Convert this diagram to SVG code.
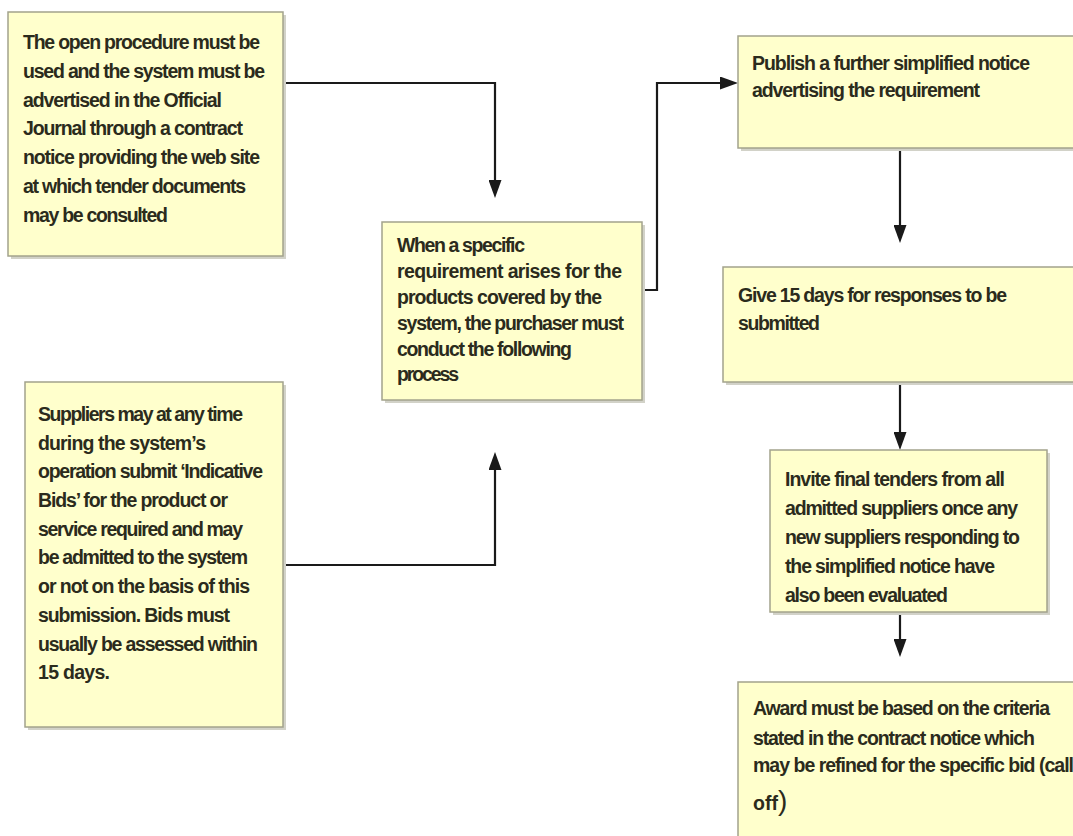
<svg xmlns="http://www.w3.org/2000/svg" width="1073" height="836" viewBox="0 0 1073 836">
<defs>
<marker id="ah" viewBox="0 0 18 13" refX="0" refY="6.5" markerWidth="18" markerHeight="13" markerUnits="userSpaceOnUse" orient="auto">
<path d="M0,0 L18,6.5 L0,13 z" fill="#1a1a1a"/>
</marker>
</defs>
<style>
.box{fill:#ffffcc;stroke:#a3a38c;stroke-width:1.5}
.sh{fill:#d2d2c8}
.t{font-family:"Liberation Sans",Arial,sans-serif;font-size:19.5px;font-weight:bold;fill:#2b2b1c}
.c{fill:none;stroke:#1a1a1a;stroke-width:2.2}
</style>
<rect width="1073" height="836" fill="#ffffff"/>

<g id="connectors">
<path class="c" d="M283,83 H495 V180" marker-end="url(#ah)"/>
<path class="c" d="M283,565 H495 V470" marker-end="url(#ah)"/>
<path class="c" d="M642,290 H657 V83 H720" marker-end="url(#ah)"/>
<path class="c" d="M900,148 V225" marker-end="url(#ah)"/>
<path class="c" d="M900,382 V432" marker-end="url(#ah)"/>
<path class="c" d="M900,612 V639" marker-end="url(#ah)"/>
</g>

<g id="node1">
<rect class="sh" x="11" y="15" width="275" height="244"/>
<rect class="box" x="8" y="12" width="275" height="244"/>
<text class="t" lengthAdjust="spacingAndGlyphs">
<tspan x="23" y="49" textLength="237">The open procedure must be</tspan>
<tspan x="23" y="78" textLength="242">used and the system must be</tspan>
<tspan x="23" y="107" textLength="199">advertised in the Official</tspan>
<tspan x="23" y="135" textLength="220">Journal through a contract</tspan>
<tspan x="23" y="164" textLength="237">notice providing the web site</tspan>
<tspan x="23" y="193" textLength="223">at which tender documents</tspan>
<tspan x="23" y="222" textLength="145">may be consulted</tspan>
</text>
</g>

<g id="node2">
<rect class="sh" x="28" y="385" width="258" height="345"/>
<rect class="box" x="25" y="382" width="258" height="345"/>
<text class="t" lengthAdjust="spacingAndGlyphs">
<tspan x="38" y="421" textLength="205">Suppliers may at any time</tspan>
<tspan x="38" y="450" textLength="168">during the system’s</tspan>
<tspan x="38" y="478" textLength="225">operation submit ‘Indicative</tspan>
<tspan x="38" y="507" textLength="190">Bids’ for the product or</tspan>
<tspan x="38" y="536" textLength="205">service required and may</tspan>
<tspan x="38" y="564" textLength="210">be admitted to the system</tspan>
<tspan x="38" y="593" textLength="212">or not on the basis of this</tspan>
<tspan x="38" y="622" textLength="192">submission. Bids must</tspan>
<tspan x="38" y="651" textLength="220">usually be assessed within</tspan>
<tspan x="38" y="679" textLength="72">15 days.</tspan>
</text>
</g>

<g id="node3">
<rect class="sh" x="385" y="225" width="260" height="178"/>
<rect class="box" x="382" y="222" width="260" height="178"/>
<text class="t" lengthAdjust="spacingAndGlyphs">
<tspan x="397" y="252" textLength="128">When a specific</tspan>
<tspan x="397" y="278" textLength="225">requirement arises for the</tspan>
<tspan x="397" y="304" textLength="205">products covered by the</tspan>
<tspan x="397" y="330" textLength="227">system, the purchaser must</tspan>
<tspan x="397" y="356" textLength="175">conduct the following</tspan>
<tspan x="397" y="381" textLength="62">process</tspan>
</text>
</g>

<g id="node4">
<rect class="sh" x="741" y="39" width="340" height="112"/>
<rect class="box" x="738" y="36" width="340" height="112"/>
<text class="t" lengthAdjust="spacingAndGlyphs">
<tspan x="752" y="70" textLength="278">Publish a further simplified notice</tspan>
<tspan x="752" y="97" textLength="228">advertising the requirement</tspan>
</text>
</g>

<g id="node5">
<rect class="sh" x="726" y="270" width="355" height="115"/>
<rect class="box" x="723" y="267" width="355" height="115"/>
<text class="t" lengthAdjust="spacingAndGlyphs">
<tspan x="738" y="302" textLength="269">Give 15 days for responses to be</tspan>
<tspan x="738" y="330" textLength="82">submitted</tspan>
</text>
</g>

<g id="node6">
<rect class="sh" x="773" y="453" width="277" height="162"/>
<rect class="box" x="770" y="450" width="277" height="162"/>
<text class="t" lengthAdjust="spacingAndGlyphs">
<tspan x="785" y="486" textLength="220">Invite final tenders from all</tspan>
<tspan x="785" y="515" textLength="233">admitted suppliers once any</tspan>
<tspan x="785" y="544" textLength="235">new suppliers responding to</tspan>
<tspan x="785" y="573" textLength="210">the simplified notice have</tspan>
<tspan x="785" y="602" textLength="163">also been evaluated</tspan>
</text>
</g>

<g id="node7">
<rect class="sh" x="741" y="685" width="340" height="160"/>
<rect class="box" x="738" y="682" width="340" height="160"/>
<text class="t" lengthAdjust="spacingAndGlyphs">
<tspan x="753" y="715" textLength="297">Award must be based on the criteria</tspan>
<tspan x="753" y="745" textLength="282">stated in the contract notice which</tspan>
<tspan x="753" y="772" textLength="321">may be refined for the specific bid (call</tspan>
</text>
<text class="t" x="753" y="810">off<tspan font-size="28" font-weight="normal">)</tspan></text>
</g>
</svg>
